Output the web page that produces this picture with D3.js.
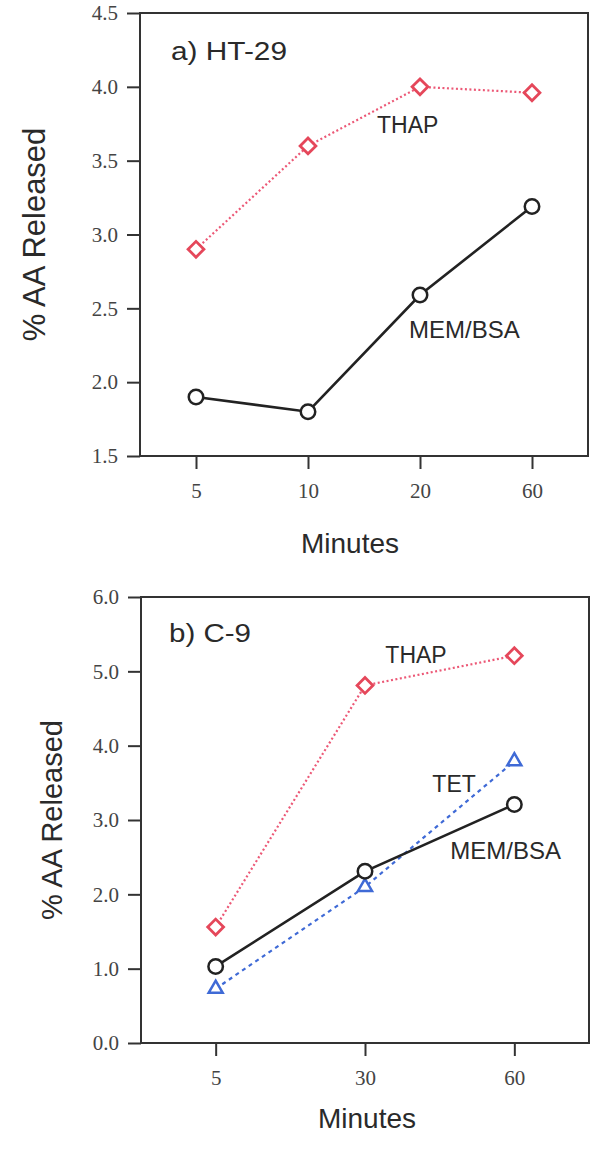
<!DOCTYPE html>
<html>
<head>
<meta charset="utf-8">
<script src="https://cdn.jsdelivr.net/npm/d3@7"></script>
<style>
  html, body { margin: 0; padding: 0; background: #fff; }
  svg { display: block; }
</style>
</head>
<body>
<svg id="chart" width="600" height="1152"></svg>
<script>
// ---------- DATA ----------
const minutesA = ["5", "10", "20", "60"];
const thapA = [2.9, 3.6, 4.0, 3.96];
const memA = [1.9, 1.8, 2.59, 3.19];
const yTicksA = [1.5, 2.0, 2.5, 3.0, 3.5, 4.0, 4.5];

const minutesB = ["5", "30", "60"];
const thapB = [1.56, 4.81, 5.21];
const tetB = [0.73, 2.1, 3.79];
const memB = [1.03, 2.31, 3.21];
const yTicksB = [0, 1, 2, 3, 4, 5, 6];

const panelTitles = ["a) HT-29", "b) C-9"];
const yTitle = "% AA Released";
const xTitle = "Minutes";

// ---------- STYLE ----------
const RED = "#e5475a", RED_LINE = "#ec5876", BLUE = "#3f6ad6", BLACK = "#222";
const SANS = "'Liberation Sans', Arial, Helvetica, sans-serif";
const SERIF = "'Liberation Serif', 'Times New Roman', serif";

const svg = d3.select("#chart");

function panel(cfg) {
  const g = svg.append("g");
  const x = d3.scalePoint().domain(cfg.cats).range([cfg.left, cfg.right]).padding(0.5);
  const y = d3.scaleLinear().domain(cfg.yDomain).range([cfg.bottom, cfg.top]);

  // frame
  g.append("rect")
    .attr("x", cfg.left).attr("y", cfg.top)
    .attr("width", cfg.right - cfg.left).attr("height", cfg.bottom - cfg.top)
    .attr("fill", "none").attr("stroke", "#333").attr("stroke-width", 2);

  // axes
  const ya = g.append("g").attr("transform", `translate(${cfg.left},0)`)
    .call(d3.axisLeft(y).tickValues(cfg.yTicks).tickFormat(d3.format(".1f")).tickSize(13).tickPadding(9));
  const xa = g.append("g").attr("transform", `translate(0,${cfg.bottom})`)
    .call(d3.axisBottom(x).tickSize(13).tickPadding(14));
  [ya, xa].forEach(a => {
    a.select(".domain").remove();
    a.selectAll(".tick line").attr("stroke", "#333").attr("stroke-width", 2);
    a.selectAll(".tick text").attr("fill", "#444").style("font-family", SERIF).style("font-size", "21px");
  });

  // series
  cfg.series.forEach(s => {
    const line = d3.line().x((d, i) => x(cfg.cats[i])).y(d => y(d));
    g.append("path").datum(s.values)
      .attr("d", line).attr("fill", "none")
      .attr("stroke", s.lineColor).attr("stroke-width", s.lineWidth)
      .attr("stroke-dasharray", s.dash || null);
    g.selectAll(null).data(s.values).enter().append("path")
      .attr("d", d3.symbol().type(s.symbol).size(s.size))
      .attr("transform", (d, i) => `translate(${x(cfg.cats[i])},${y(d)}) rotate(${s.rotate || 0})`)
      .attr("fill", "#fff").attr("stroke", s.color).attr("stroke-width", s.strokeWidth);
  });

  // series labels
  cfg.labels.forEach(l => {
    g.append("text")
      .attr("x", x(cfg.cats[l.idx]) + l.dx)
      .attr("y", y(l.ref) + l.dy)
      .attr("fill", "#2a2a2a").style("font-family", SANS).style("font-size", l.fs + "px")
      .text(l.text);
  });

  // panel title
  g.append("text")
    .attr("x", cfg.left + cfg.titleDx).attr("y", cfg.top + cfg.titleDy)
    .attr("fill", "#2a2a2a").style("font-family", SANS).style("font-size", "25px")
    .attr("textLength", cfg.titleLen).attr("lengthAdjust", "spacingAndGlyphs")
    .text(cfg.title);

  // axis titles
  g.append("text")
    .attr("transform", `translate(${cfg.yTitleX},${(cfg.top + cfg.bottom) / 2}) rotate(-90)`)
    .attr("text-anchor", "middle")
    .attr("fill", "#2a2a2a").style("font-family", SANS).style("font-size", cfg.yTitleFs + "px")
    .text(yTitle);
  g.append("text")
    .attr("x", cfg.xTitleX).attr("y", cfg.bottom + cfg.xTitleDy)
    .attr("fill", "#2a2a2a").style("font-family", SANS).style("font-size", "28px")
    .text(xTitle);
}

const thapStyle = { symbol: d3.symbolSquare, size: 125, rotate: 45, color: RED, strokeWidth: 2.8, lineColor: RED_LINE, lineWidth: 2.2, dash: "2,2.5" };
const memStyle = { symbol: d3.symbolCircle, size: 165, color: BLACK, strokeWidth: 2.5, lineColor: BLACK, lineWidth: 2.6 };
const tetStyle = { symbol: d3.symbolTriangle, size: 85, color: BLUE, strokeWidth: 2.5, lineColor: BLUE, lineWidth: 2.2, dash: "4,4" };

panel({
  cats: minutesA, yDomain: [1.5, 4.5], yTicks: yTicksA,
  left: 140, right: 588, top: 13, bottom: 456,
  series: [
    Object.assign({ values: thapA }, thapStyle),
    Object.assign({ values: memA }, memStyle)
  ],
  labels: [
    { text: "THAP", idx: 2, ref: thapA[2], dx: -43, dy: 46, fs: 23 },
    { text: "MEM/BSA", idx: 2, ref: memA[2], dx: -11, dy: 43, fs: 24 }
  ],
  title: panelTitles[0], titleDx: 31, titleDy: 47, titleLen: 116,
  yTitleX: 45, yTitleFs: 31, xTitleX: 301, xTitleDy: 97
});

panel({
  cats: minutesB, yDomain: [0, 6], yTicks: yTicksB,
  left: 141, right: 589, top: 597, bottom: 1043,
  series: [
    Object.assign({ values: thapB }, thapStyle),
    Object.assign({ values: tetB }, tetStyle),
    Object.assign({ values: memB }, memStyle)
  ],
  labels: [
    { text: "THAP", idx: 2, ref: thapB[2], dx: -129, dy: 7, fs: 23 },
    { text: "TET", idx: 2, ref: tetB[2], dx: -82, dy: 31, fs: 23 },
    { text: "MEM/BSA", idx: 2, ref: memB[2], dx: -64, dy: 55, fs: 24 }
  ],
  title: panelTitles[1], titleDx: 28, titleDy: 45, titleLen: 82,
  yTitleX: 62, yTitleFs: 29, xTitleX: 318, xTitleDy: 85
});
</script>
</body>
</html>
